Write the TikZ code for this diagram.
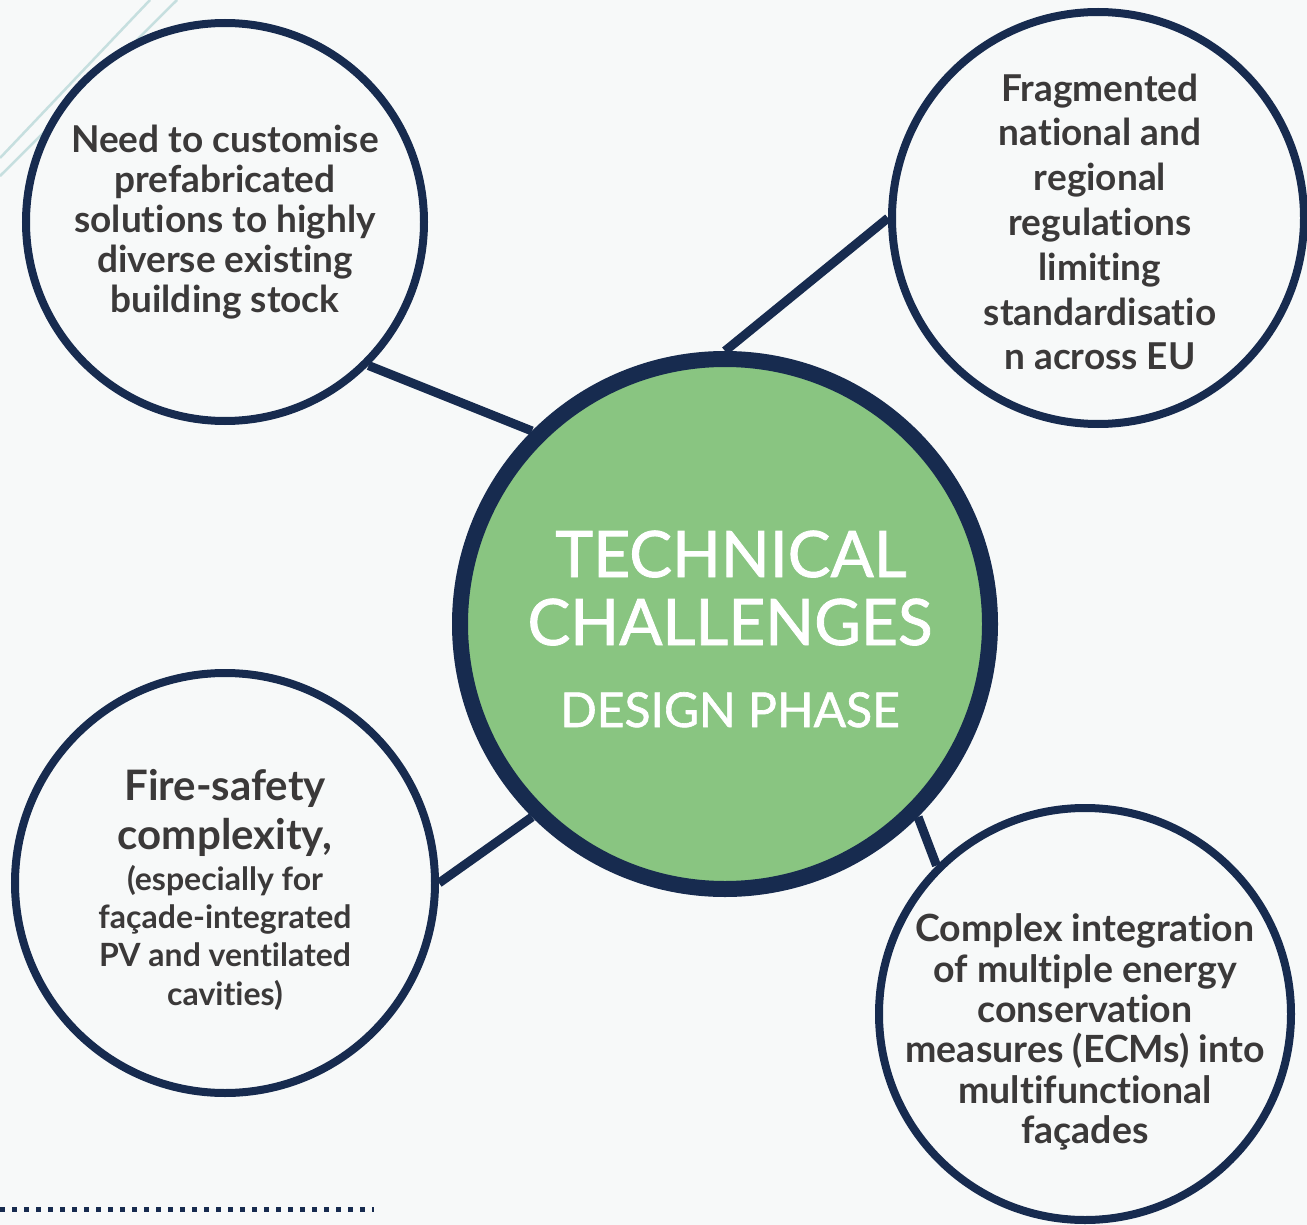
\documentclass[tikz,border=0pt]{standalone}
\usepackage{fontspec}
\setmainfont{Lato}[Ligatures=NoCommon]
\newfontfamily\titlefont{Lato}[FakeBold=1.3]
\definecolor{navy}{HTML}{172B4F}
\definecolor{leaf}{HTML}{89C581}
\definecolor{ink}{HTML}{3B3939}
\definecolor{paper}{HTML}{F7F9F9}
\definecolor{tealline}{HTML}{C6DFDF}
\pgfdeclarelayer{bottom}
\pgfdeclarelayer{links}
\pgfsetlayers{bottom,links,main}
\begin{document}
\begin{tikzpicture}[x=1pt,y=-1pt,
  bubble/.style={circle, draw=navy, line width=8pt, fill=paper, inner sep=0pt, minimum size=#1},
  hub/.style={circle, draw=navy, line width=16pt, fill=leaf, inner sep=0pt, minimum size=530pt},
  link/.style={draw=navy, line width=9pt},
  txt/.style={text=ink, align=center, inner sep=0pt, font=\bfseries\fontsize{37.5}{40.4}\selectfont},
  title/.style={text=white, anchor=base, inner sep=0pt, font=\titlefont\fontsize{64}{64}\selectfont},
  deco/.style={draw=tealline, line width=2.5pt}]
\useasboundingbox (0,0) rectangle (1307,1225);
\begin{pgfonlayer}{bottom}
  \fill[paper] (0,0) rectangle (1307,1225);
  \draw[deco] (0,158) -- (150,0);
  \draw[deco] (0,176) -- (177,0);
  \draw[navy, line width=5pt, dash pattern=on 5pt off 7pt] (0,1209) -- (374,1209);
\end{pgfonlayer}

\node[hub] (hub) at (725,624) {};
\node[bubble=398pt] (tl) at (225,222) {};
\node[bubble=412pt] (tr) at (1098,218) {};
\node[bubble=420pt] (bl) at (225,883) {};
\node[bubble=412pt] (br) at (1085,1014) {};

\begin{pgfonlayer}{links}
  \draw[link] (hub.135) -- (tl.-45);
  \draw[link] (hub.90) -- (tr.180);
  \draw[link] (hub.225) -- (bl.0);
  \draw[link] (hub.-45) -- (br.135);
\end{pgfonlayer}

\node[title] (t1) at (731,577) {TECHNICAL};
\node[title] (t2) at (730,645) {CHALLENGES};
\node[title, font=\titlefont\fontsize{48}{48}\selectfont] (t3) at (730,727) {DESIGN PHASE};

\node[txt, font=\bfseries\fontsize{37}{40}\selectfont] (tltext) at (225,222) {Need to customise\\prefabricated\\solutions to highly\\diverse existing\\building stock};
\node[txt, font=\bfseries\fontsize{37}{44.8}\selectfont] (trtext) at (1100,222) {Fragmented\\national and\\regional\\regulations\\limiting\\standardisatio\\n across EU};
\node[txt, font=\bfseries\fontsize{42}{49}\selectfont, anchor=base] (bltextA) at (225,849) {Fire-safety\\complexity,};
\node[txt, font=\bfseries\fontsize{32}{38.3}\selectfont, anchor=base] (bltextB) at (225,1005) {(especially for\\façade-integrated\\PV and ventilated\\cavities)};
\node[txt] (brtext) at (1085,1032) {Complex integration\\of multiple energy\\conservation\\measures (ECMs) into\\multifunctional\\façades};
\end{tikzpicture}
\end{document}
